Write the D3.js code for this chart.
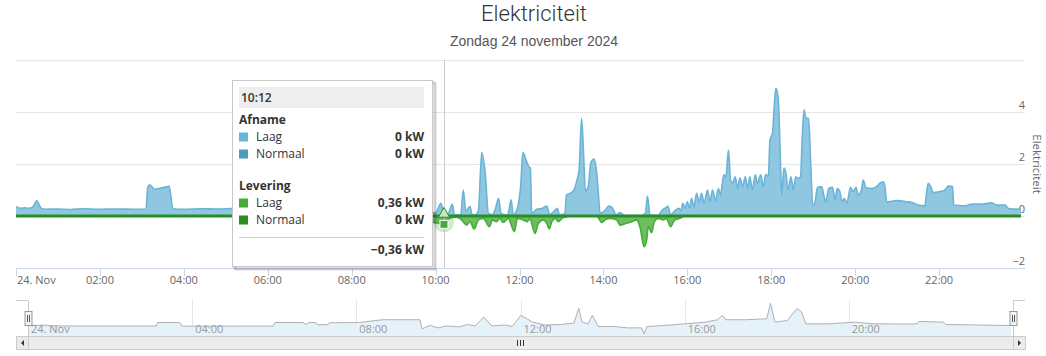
<!DOCTYPE html>
<html><head><meta charset="utf-8">
<script src="https://cdn.jsdelivr.net/npm/d3@7"></script>
<style>
body{margin:0;background:#fff;}
svg{display:block;}
text{font-family:"Open Sans",sans-serif;}
</style>
</head><body>
<svg id="chart" width="1046" height="356"></svg>
<script>
// ---------- DATA ----------
const chartTitle = "Elektriciteit";
const chartSubtitle = "Zondag 24 november 2024";
const yAxisTitle = "Elektriciteit";

const xTickHours = [0, 2, 4, 6, 8, 10, 12, 14, 16, 18, 20, 22];
const xTickLabels = ["24. Nov", "02:00", "04:00", "06:00", "08:00", "10:00", "12:00", "14:00", "16:00", "18:00", "20:00", "22:00"];
const navTickHours = [0, 4, 8, 12, 16, 20];
const navTickLabels = ["24. Nov", "04:00", "08:00", "12:00", "16:00", "20:00"];
const yTickValues = [-2, 0, 2, 4, 6];
const yTickLabels = ["−2", "0", "2", "4", ""];

// Afname Laag [hour, kW]
const afnameLaag = [
 [0,0.36],[0.1,0.3],[0.2,0.32],[0.3,0.3],[0.4,0.35],[0.49,0.58],[0.6,0.3],[0.7,0.26],[1.0,0.27],[1.3,0.25],[1.6,0.28],[2.0,0.26],[2.4,0.27],[2.8,0.26],[3.1,0.27],
 [3.14,1.1],[3.19,1.2],[3.3,1.03],[3.45,1.08],[3.6,1.12],[3.65,1.15],[3.74,0.28],[4.0,0.26],[4.4,0.28],[4.8,0.27],[5.15,0.29],
 [5.9,0.28],[6.0,0.9],[6.7,0.85],[6.8,0.55],[6.9,0.85],[7.05,0.6],[7.1,0.85],[8.0,0.9],[8.3,1.45],[9.55,1.45],[9.6,0.1],[9.9,0.15],
 [10.0,0.12],[10.13,0.49],[10.2,0.05],[10.3,0.1],[10.4,0.45],[10.45,0.05],[10.6,0.05],[10.66,1.0],[10.72,0.2],[10.82,0.36],[10.87,0.05],[10.95,0.05],[11.02,0.2],
 [11.1,2.44],[11.18,1.7],[11.26,0.1],[11.35,0.05],[11.43,0.3],[11.5,0.68],[11.56,0.1],[11.65,0.05],[11.72,0.05],[11.8,0.62],[11.85,0.05],[11.95,0.3],
 [12.03,1.2],[12.08,2.44],[12.17,2.09],[12.22,1.9],[12.26,1.85],[12.29,0.1],[12.4,0.25],[12.55,0.3],[12.65,0.38],[12.72,0.05],[12.8,0.15],[12.9,0.3],[12.95,0.05],
 [13.08,0.1],[13.12,0.81],[13.2,0.87],[13.3,1.0],[13.36,1.32],[13.42,1.77],[13.48,3.76],[13.53,2.28],[13.57,0.96],[13.64,1.15],[13.7,2.05],[13.78,2.19],[13.84,1.65],[13.88,0.88],[13.92,0.1],
 [14.03,0.2],[14.13,0.38],[14.22,0.3],[14.3,0.05],[14.4,0.13],[14.5,0.02],[14.9,0.02],[15.0,0.1],[15.05,0.77],[15.11,0.05],[15.3,0.02],[15.39,0.2],[15.47,0.3],[15.54,0.37],[15.6,0.05],
 [15.7,0.2],[15.8,0.3],[15.85,0.2],[15.89,0.49],[15.95,0.3],[16.0,0.55],[16.05,0.3],[16.1,0.68],[16.16,0.35],[16.22,0.87],
 [16.28,0.55],[16.34,0.87],[16.4,0.49],[16.48,1.0],[16.54,0.55],[16.6,1.0],[16.67,0.59],[16.74,1.06],[16.79,0.81],[16.87,1.58],[16.92,1.51],[16.98,2.54],[17.03,1.38],[17.08,1.26],
 [17.14,1.51],[17.2,1.06],[17.25,1.47],[17.32,1.13],[17.38,1.51],[17.44,1.06],[17.49,1.51],[17.55,1.0],[17.62,1.58],[17.67,1.26],[17.75,1.58],[17.81,1.13],[17.87,1.6],[17.93,1.51],
 [17.97,2.92],[18.03,3.18],[18.07,4.2],[18.11,4.91],[18.16,4.59],[18.19,3.69],[18.22,2.03],[18.25,0.81],[18.3,1.84],[18.35,1.64],[18.4,1.0],[18.47,1.51],[18.53,1.0],[18.58,1.51],[18.64,1.45],[18.7,1.51],
 [18.73,2.67],[18.78,4.08],[18.83,3.76],[18.89,3.76],[18.94,2.03],[18.99,0.42],[19.04,0.49],[19.1,1.1],[19.2,1.13],[19.26,0.74],[19.3,0.55],[19.37,1.06],[19.46,1.1],[19.52,0.62],[19.57,1.06],
 [19.63,0.97],[19.69,0.55],[19.74,0.68],[19.8,0.49],[19.89,1.1],[19.95,0.94],[20.02,1.1],[20.07,0.81],[20.15,1.0],[20.19,1.38],[20.26,1.09],[20.39,1.06],[20.51,1.13],[20.59,1.26],[20.67,1.32],[20.71,1.13],
 [20.75,0.55],[20.99,0.59],[21.22,0.55],[21.38,0.51],[21.5,0.42],[21.66,0.39],[21.7,0.87],[21.74,1.26],[21.8,1.13],[21.86,0.9],[22.02,0.94],[22.14,1.0],[22.22,1.15],[22.32,1.13],[22.35,0.42],
 [22.58,0.39],[22.81,0.46],[23.05,0.46],[23.25,0.51],[23.37,0.42],[23.57,0.42],[23.65,0.29],[23.95,0.26]
];
// Afname Normaal [hour, kW]
const afnameNormaal = [[0,0],[23.95,0]];
// Levering Laag [hour, kW] (negative = teruglevering)
const leveringLaag = [
 [0,0],[9.5,0],[9.7,-0.1],[9.95,-0.25],[10.1,-0.3],[10.2,-0.36],[10.28,-0.15],[10.34,-0.09],[10.5,-0.05],[10.62,-0.15],[10.74,-0.35],[10.82,-0.22],[10.92,-0.5],[11.02,-0.15],
 [11.14,-0.09],[11.28,-0.41],[11.36,-0.15],[11.45,-0.22],[11.53,-0.09],[11.61,-0.25],[11.73,-0.09],[11.88,-0.6],[11.95,-0.09],[12.09,-0.15],[12.17,-0.22],[12.25,-0.12],
 [12.37,-0.67],[12.45,-0.28],[12.57,-0.15],[12.65,-0.28],[12.71,-0.5],[12.77,-0.22],[12.85,-0.09],[12.93,-0.22],[13.01,-0.09],[13.08,-0.05],[13.2,0],[13.84,0],
 [13.96,-0.25],[14.04,-0.15],[14.16,-0.09],[14.32,-0.15],[14.39,-0.35],[14.55,-0.28],[14.67,-0.22],[14.79,-0.15],[14.87,-0.41],[14.97,-1.18],[15.03,-0.92],[15.07,-0.41],
 [15.15,-0.64],[15.21,-0.22],[15.31,-0.09],[15.43,-0.15],[15.5,-0.09],[15.6,-0.41],[15.7,-0.15],[15.82,-0.09],[15.94,0],[23.95,0]
];
// Levering Normaal [hour, kW]
const leveringNormaal = [[0,0],[23.95,0]];

// Navigator series [hour, kW]
const navigatorSeries = [
 [0,0.29],[0.45,0.35],[0.55,0.2],[3.12,0.18],[3.16,0.92],[3.7,0.92],[3.75,0.15],[5.98,0.17],[6.02,0.92],[6.7,0.9],[6.78,0.5],[6.85,0.9],[7.0,0.9],[7.07,0.42],[7.3,0.5],[7.36,0.86],
 [8.06,0.9],[8.64,1.49],[9.55,1.49],[9.6,-0.42],[9.8,0.3],[10.0,-0.21],[10.2,0.2],[10.5,0],[10.7,0.5],[10.9,0.2],[11.1,2.05],[11.3,0.2],[11.6,0.4],[11.8,0.1],
 [12.01,2.4],[12.3,0.98],[12.6,0.4],[13.0,0.5],[13.13,0.63],[13.3,0.77],[13.42,3.83],[13.5,0.98],[13.65,0.63],[13.75,2.4],[13.9,0.06],[14.3,0.06],[14.61,-0.21],[14.95,-0.21],
 [15.01,-1.48],[15.08,0.06],[15.5,0.29],[16.0,0.63],[16.5,0.98],[16.8,1.49],[16.92,2.4],[17.0,1.49],[17.5,1.49],[18.0,1.69],[18.09,4.9],[18.2,0.98],[18.5,1.34],[18.74,3.83],
 [18.85,3.12],[18.95,0.63],[19.5,0.63],[20.14,0.98],[20.6,0.63],[21.4,0.6],[21.66,0.63],[21.71,1.13],[22.3,0.98],[22.37,0.5],[23.9,0.29],[23.95,0.29]
];

// Tooltip content
const tooltipTime = "10:12";
const tooltipHour = 10.2;
const tooltipGroups = ["Afname", "Levering"];
const tooltipNames = ["Laag", "Normaal"];
const tooltipValues = [["0 kW", "0 kW"], ["0,36 kW", "0 kW"]];
const tooltipTotal = "−0,36 kW";
const hoverLaagValue = -0.36;
const hoverNormaalValue = 0;

// ---------- STYLE ----------
const colAfnLaag = "#6ab4d8", colAfnNorm = "#4d9cc0", colLevLaag = "#45ab3b", colLevNorm = "#2b8e24";

const svg = d3.select("#chart");
const L = 16, R = 1025, T = 60, B = 268;
const x = d3.scaleLinear().domain([0, 24]).range([L, 1023]);
const y = d3.scaleLinear().domain([-2, 6]).range([B, T]);

// Title
svg.append("text").attr("x", 534).attr("y", 21).attr("text-anchor", "middle")
  .style("font-family", "Roboto").style("font-weight", 300).style("font-size", "22px").attr("fill", "#333").text(chartTitle);
svg.append("text").attr("x", 534).attr("y", 46).attr("text-anchor", "middle")
  .style("font-family", "'Liberation Sans'").style("font-size", "14px").attr("fill", "#555").text(chartSubtitle);

// Gridlines
svg.append("g").selectAll("line").data(yTickValues).join("line")
  .attr("x1", L).attr("x2", R).attr("y1", d => Math.round(y(d)) + 0.5).attr("y2", d => Math.round(y(d)) + 0.5)
  .attr("stroke", "#e6e6e6");

// Y labels (right)
svg.append("g").selectAll("text").data(yTickValues).join("text")
  .attr("x", R).attr("y", d => y(d) - 3).attr("text-anchor", "end")
  .style("font-size", "11px").attr("fill", "#666").text((d, i) => yTickLabels[i]);
svg.append("text").attr("transform", `translate(1033,${(T + B) / 2}) rotate(90)`).attr("text-anchor", "middle")
  .style("font-size", "11.5px").attr("fill", "#666").text(yAxisTitle);

// X axis
const xa = svg.append("g");
xa.append("line").attr("x1", L).attr("x2", R).attr("y1", B + 0.5).attr("y2", B + 0.5).attr("stroke", "#ccd6eb");
xa.selectAll("line.t").data(xTickHours).join("line").attr("class", "t")
  .attr("x1", d => Math.round(x(d)) + 0.5).attr("x2", d => Math.round(x(d)) + 0.5).attr("y1", B).attr("y2", B + 8).attr("stroke", "#ccd6eb");
xa.selectAll("text").data(xTickHours).join("text")
  .attr("x", d => x(d) + (d === 0 ? 1 : 0)).attr("y", 284).attr("text-anchor", d => d === 0 ? "start" : "middle")
  .style("font-size", "11px").attr("fill", "#666").text((d, i) => xTickLabels[i]);

// Series
const defs = svg.append("defs");
defs.append("clipPath").attr("id", "plot").append("rect").attr("x", L).attr("y", T - 10).attr("width", R - L).attr("height", B - T + 10);
const g = svg.append("g").attr("clip-path", "url(#plot)");
const curve = d3.curveMonotoneX;
const area = d3.area().x(d => x(d[0])).y0(y(0)).y1(d => y(d[1])).curve(curve);
const line = d3.line().x(d => x(d[0])).y(d => y(d[1])).curve(curve);

g.append("path").datum(afnameLaag).attr("d", area).attr("fill", "#8fc6e0");
g.append("path").datum(afnameLaag).attr("d", line).attr("fill", "none").attr("stroke", colAfnLaag).attr("stroke-width", 1.6);
g.append("path").datum(afnameNormaal).attr("d", line).attr("fill", "none").attr("stroke", colAfnNorm).attr("stroke-width", 2);
g.append("path").datum(leveringLaag).attr("d", area).attr("fill", "#6dbe5f");
g.append("path").datum(leveringLaag).attr("d", line).attr("fill", "none").attr("stroke", colLevLaag).attr("stroke-width", 1.6);
g.append("path").datum(leveringNormaal).attr("d", line).attr("fill", "none").attr("stroke", colLevNorm).attr("stroke-width", 3.2);

// Crosshair
const cx = Math.round(x(tooltipHour)) + 0.5;
svg.append("line").attr("x1", cx).attr("x2", cx).attr("y1", T).attr("y2", B).attr("stroke", "#cccccc");

// Hover markers
svg.append("circle").attr("cx", x(tooltipHour)).attr("cy", y(hoverLaagValue) - 3).attr("r", 10).attr("fill", colLevLaag).attr("opacity", 0.25);
svg.append("rect").attr("x", x(tooltipHour) - 4).attr("y", y(hoverLaagValue) - 5).attr("width", 8).attr("height", 8)
  .attr("fill", colLevLaag).attr("stroke", "#fff").attr("stroke-width", 1);
svg.append("path").attr("d", d3.symbol(d3.symbolTriangle, 55)())
  .attr("transform", `translate(${x(tooltipHour)},${y(hoverNormaalValue) - 2})`)
  .attr("fill", "#c9e6c4").attr("stroke", colLevNorm).attr("stroke-width", 1);

// Tooltip
const tt = svg.append("g");
const tx = 232, ty = 80, tw = 200, th = 186;
[3, 2, 1].forEach(o => tt.append("rect").attr("x", tx + 0.5 + o).attr("y", ty + 0.5 + o).attr("width", tw).attr("height", th)
  .attr("fill", "none").attr("stroke", "#000").attr("stroke-opacity", 0.05 * o).attr("stroke-width", 2));
tt.append("rect").attr("x", tx + 0.5).attr("y", ty + 0.5).attr("width", tw).attr("height", th)
  .attr("fill", "#fff").attr("stroke", "#c8c8c8");
tt.append("rect").attr("x", 239).attr("y", 87).attr("width", 185).attr("height", 21).attr("fill", "#eeeeee");
tt.append("text").attr("x", 241).attr("y", 102).style("font-size", "12px").style("font-weight", 600).attr("fill", "#333").text(tooltipTime);
const sq = [[colAfnLaag, colAfnNorm], [colLevLaag, colLevNorm]];
const groupY = [124, 190];
tooltipGroups.forEach((grp, gi) => {
  const gy = groupY[gi];
  tt.append("text").attr("x", 239).attr("y", gy).style("font-size", "12px").style("font-weight", 700).attr("fill", "#333").text(grp);
  tooltipNames.forEach((nm, ni) => {
    const ry = gy + 17 + ni * 17;
    tt.append("rect").attr("x", 239).attr("y", ry - 8.5).attr("width", 9).attr("height", 9).attr("fill", sq[gi][ni]);
    tt.append("text").attr("x", 256).attr("y", ry).style("font-size", "12px").attr("fill", "#333").text(nm);
    tt.append("text").attr("x", 424).attr("y", ry).attr("text-anchor", "end").style("font-size", "12px").style("font-weight", 700).attr("fill", "#333").text(tooltipValues[gi][ni]);
  });
});
tt.append("line").attr("x1", 239).attr("x2", 424).attr("y1", 237.5).attr("y2", 237.5).attr("stroke", "#ccc");
tt.append("text").attr("x", 424).attr("y", 254).attr("text-anchor", "end").style("font-size", "12px").style("font-weight", 700).attr("fill", "#333").text(tooltipTotal);

// Navigator
const NL = 28, NR = 1013, NT = 300, NB = 336;
const nx = d3.scaleLinear().domain([0, 24]).range([NL, NR]);
const ny = d3.scaleLinear().domain([-1.9, 5.6]).range([NB, NT]);
const nav = svg.append("g");
nav.selectAll("line.g").data(navTickHours).join("line").attr("class", "g")
  .attr("x1", d => Math.round(nx(d)) + 0.5).attr("x2", d => Math.round(nx(d)) + 0.5).attr("y1", NT).attr("y2", NB).attr("stroke", "#e6e6e6");
nav.append("path").datum(navigatorSeries)
  .attr("d", d3.area().x(d => nx(d[0])).y0(NB).y1(d => ny(d[1])))
  .attr("fill", "#e3f1fa").attr("opacity", 0.9);
nav.append("path").datum(navigatorSeries)
  .attr("d", d3.line().x(d => nx(d[0])).y(d => ny(d[1])))
  .attr("fill", "none").attr("stroke", "#b0b0b0").attr("stroke-width", 1);
nav.selectAll("text").data(navTickHours).join("text")
  .attr("x", d => nx(d) + 3).attr("y", 333).style("font-size", "11px").attr("fill", "#999").text((d, i) => navTickLabels[i]);
nav.append("path").attr("d", `M${L},${NT + 0.5}H${NL + 0.5}V${NB}M${NR + 0.5},${NB}V${NT + 0.5}H${R}`)
  .attr("fill", "none").attr("stroke", "#cccccc");
[NL, NR].forEach(hx => {
  nav.append("rect").attr("x", hx - 3).attr("y", 311.5).attr("width", 7).attr("height", 14)
    .attr("fill", "#f2f2f2").attr("stroke", "#999");
  nav.append("path").attr("d", `M${hx - 0.5},315V322M${hx + 1.5},315V322`).attr("stroke", "#333").attr("stroke-width", 0.8);
});

// Scrollbar
const sb = svg.append("g");
const SY = 336.5, SH = 13;
sb.append("rect").attr("x", L + 0.5).attr("y", SY).attr("width", R - L).attr("height", SH).attr("fill", "#f2f2f2").attr("stroke", "#cccccc");
sb.append("rect").attr("x", NL + 0.5).attr("y", SY).attr("width", NR - NL).attr("height", SH).attr("fill", "#ececec").attr("stroke", "#cccccc");
[[L + 0.5, NL - L], [NR + 0.5, R - NR]].forEach(([bx, bw], i) => {
  sb.append("rect").attr("x", bx).attr("y", SY).attr("width", bw).attr("height", SH).attr("fill", "#ebebeb").attr("stroke", "#cccccc");
  const ax = bx + bw / 2, ay = SY + SH / 2;
  sb.append("path").attr("d", i === 0 ? `M${ax + 1.5},${ay - 3}L${ax - 1.5},${ay}L${ax + 1.5},${ay + 3}Z` : `M${ax - 1.5},${ay - 3}L${ax + 1.5},${ay}L${ax - 1.5},${ay + 3}Z`)
    .attr("fill", "#333");
});
const gx = (NL + NR) / 2;
sb.append("path").attr("d", `M${gx - 3},${SY + 3.5}V${SY + 9.5}M${gx},${SY + 3.5}V${SY + 9.5}M${gx + 3},${SY + 3.5}V${SY + 9.5}`)
  .attr("stroke", "#333").attr("stroke-width", 1);
</script>
</body></html>
